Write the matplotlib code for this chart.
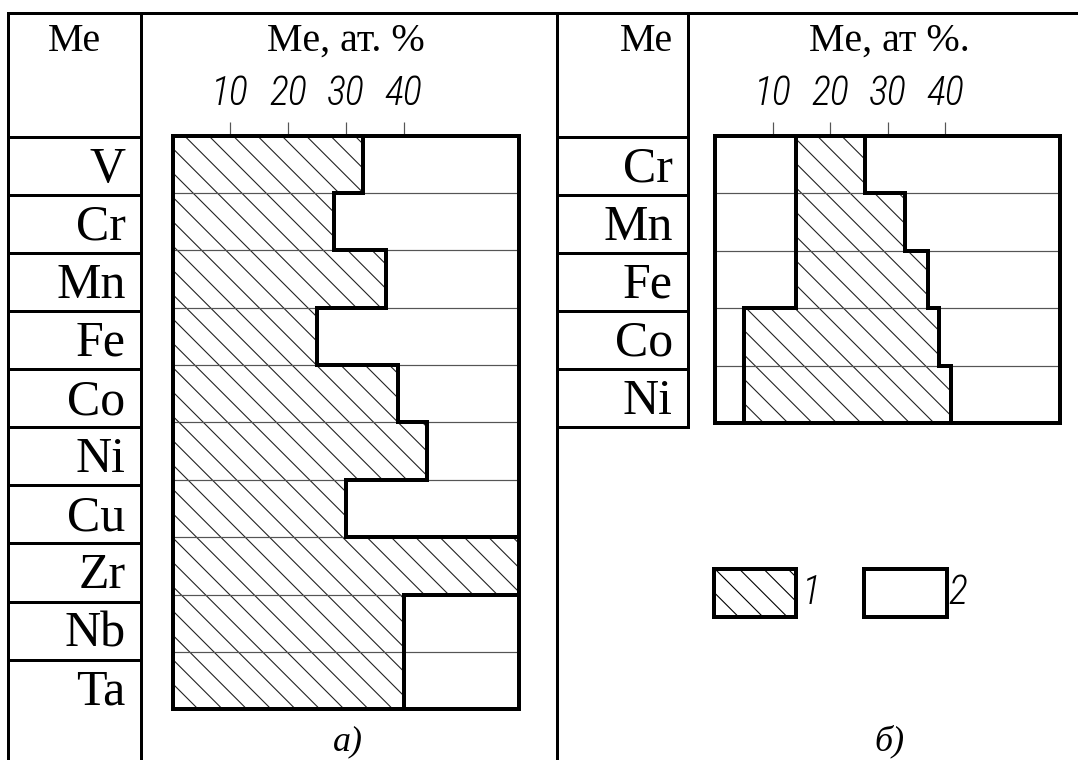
import numpy as np
import matplotlib
matplotlib.use("Agg")
import matplotlib.pyplot as plt
from matplotlib.patches import Rectangle
from matplotlib import font_manager as fm

# ---------------- data ----------------
elements_a = ['V', 'Cr', 'Mn', 'Fe', 'Co', 'Ni', 'Cu', 'Zr', 'Nb', 'Ta']
share_a = [33, 28, 37, 25, 39, 44, 30, 60, 40, 40]          # at.% (hatched, from 0)

elements_b = ['Cr', 'Mn', 'Fe', 'Co', 'Ni']
start_b = [14, 14, 14, 5, 5]                                   # at.% lower bound
end_b = [26, 33, 37, 39, 41]                                   # at.% upper bound

xticks = [10, 20, 30, 40]
xmax = 60
legend_labels = ['1', '2']

# ---------------- layout ----------------
DPI = 146
W, H = 1078, 760
PT = 72.0 / DPI  # points per pixel

plt.rcParams['hatch.linewidth'] = 1.1 * PT
SERIF = ['Liberation Serif', 'DejaVu Serif']


# narrow italic font for numbers (drafting style)
def _w(f):
    w = f.weight
    if isinstance(w, str):
        w = {'light': 300, 'normal': 400, 'regular': 400, 'book': 400,
             'medium': 500, 'bold': 700}.get(w, 400)
    return w


cands = []
for f in fm.fontManager.ttflist:
    narrow = ('Condensed' in f.name or 'Narrow' in f.name or
              str(f.stretch) in ('condensed', 'semi-condensed', 'extra-condensed'))
    if narrow and f.style in ('italic', 'oblique') and 250 <= _w(f) <= 400:
        pri = 0 if 'Roboto' in f.name else (1 if 'Narrow' in f.name else 2)
        cands.append((pri, abs(_w(f) - 300), f.fname))
cands.sort()
NUM_FS = 40 * PT
if cands:
    NUM_PROP = fm.FontProperties(fname=cands[0][2], size=NUM_FS)
else:
    NUM_PROP = fm.FontProperties(family='Liberation Sans', style='italic', size=NUM_FS)

fig = plt.figure(figsize=(W / DPI, H / DPI), dpi=DPI)
fig.patch.set_facecolor('white')

bg = fig.add_axes([0, 0, 1, 1], zorder=0)
bg.set_xlim(0, W)
bg.set_ylim(H, 0)
bg.axis('off')

TLW = 3.0 * PT   # table line width
FLW = 4.0 * PT   # frame / outline width


def hline(y, x0, x1, lw=TLW):
    bg.plot([x0, x1], [y, y], color='black', lw=lw, solid_capstyle='projecting')


def vline(x, y0, y1, lw=TLW):
    bg.plot([x, x], [y0, y1], color='black', lw=lw, solid_capstyle='projecting')


# table grid
top_y = 13.3
row0 = 136.7
rstep = 58.1
hline(top_y, 8.3, W)
vline(8.3, top_y, H)
vline(140.7, top_y, H)
vline(556.7, top_y, H)
nb_rows = len(elements_b)
vline(688.3, top_y, row0 + nb_rows * rstep)
for k in range(len(elements_a)):
    hline(row0 + k * rstep, 8.3, 140.7)
for k in range(nb_rows + 1):
    hline(row0 + k * rstep, 556.7, 688.3)

# header texts
bg.text(74.5, 51, 'Me', ha='center', va='baseline', fontsize=40 * PT, family=SERIF)
bg.text(346, 51, 'Me, ат. %', ha='center', va='baseline', fontsize=40 * PT, family=SERIF)
bg.text(673, 51, 'Me', ha='right', va='baseline', fontsize=40 * PT, family=SERIF)
bg.text(889, 51, 'Me, ат %.', ha='center', va='baseline', fontsize=40 * PT, family=SERIF)

# row labels
for k, el in enumerate(elements_a):
    bg.text(125.5, row0 + k * rstep + 45, el, ha='right', va='baseline',
            fontsize=50 * PT, family=SERIF)
for k, el in enumerate(elements_b):
    bg.text(673, row0 + k * rstep + 45, el, ha='right', va='baseline',
            fontsize=50 * PT, family=SERIF)

# panel captions
bg.text(348, 750, 'а)', ha='center', va='baseline', fontsize=36 * PT,
        family=SERIF, style='italic')
bg.text(889, 750, 'б)', ha='center', va='baseline', fontsize=36 * PT,
        family=SERIF, style='italic')


def chart_axes(left, right, top, bottom):
    ax = fig.add_axes([left / W, 1 - bottom / H, (right - left) / W, (bottom - top) / H],
                      zorder=1)
    return ax


def style_chart(ax, n):
    ax.set_xlim(0, xmax)
    ax.set_ylim(n - 0.5, -0.5)
    edges = np.arange(n + 1) - 0.5
    for e in edges[1:-1]:
        ax.axhline(e, color='#555555', lw=1.2 * PT, zorder=2)
    for s in ax.spines.values():
        s.set_linewidth(FLW)
        s.set_zorder(5)
    ax.xaxis.tick_top()
    ax.set_xticks(xticks)
    ax.set_xticklabels([str(t) for t in xticks], fontproperties=NUM_PROP)
    ax.tick_params(axis='x', direction='out', length=14 * PT, width=1.2 * PT,
                   color='#555555', pad=9 * PT)
    ax.set_yticks([])
    return edges


# chart a
ax_a = chart_axes(172.5, 519, 135.7, 709.3)
n_a = len(elements_a)
ypos_a = np.arange(n_a)
ax_a.barh(ypos_a, share_a, left=0, height=1.0, facecolor='white',
          edgecolor='#222222', linewidth=0, hatch='\\\\', zorder=1)
edges_a = style_chart(ax_a, n_a)
ax_a.stairs(share_a, edges_a, orientation='horizontal', baseline=None,
            color='black', lw=FLW, zorder=4)

# chart b
ax_b = chart_axes(715, 1060, 135.7, 423.3)
n_b = len(elements_b)
ypos_b = np.arange(n_b)
widths_b = [e - s for s, e in zip(start_b, end_b)]
ax_b.barh(ypos_b, widths_b, left=start_b, height=1.0, facecolor='white',
          edgecolor='#222222', linewidth=0, hatch='\\\\', zorder=1)
edges_b = style_chart(ax_b, n_b)
ax_b.stairs(end_b, edges_b, orientation='horizontal', baseline=None,
            color='black', lw=FLW, zorder=4)
ax_b.stairs(start_b, edges_b, orientation='horizontal', baseline=None,
            color='black', lw=FLW, zorder=4)

# legend boxes
bg.add_patch(Rectangle((714.3, 569), 81.4, 48, facecolor='white', edgecolor='black',
                       lw=FLW, hatch='\\\\', zorder=2))
bg.add_patch(Rectangle((864.3, 569), 82.4, 48, facecolor='white', edgecolor='black',
                       lw=FLW, zorder=2))
bg.text(811, 604, legend_labels[0], ha='center', va='baseline', fontproperties=NUM_PROP)
bg.text(958, 604, legend_labels[1], ha='center', va='baseline', fontproperties=NUM_PROP)

fig.savefig('out.png', dpi=DPI, facecolor='white')
